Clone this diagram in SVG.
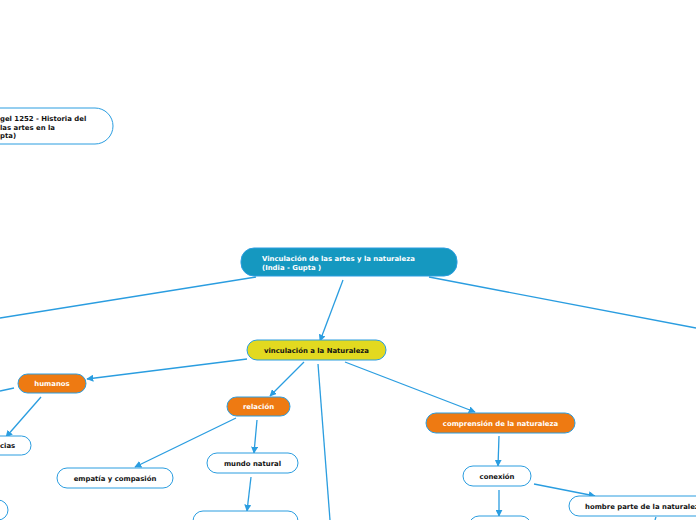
<svg xmlns="http://www.w3.org/2000/svg" width="696" height="520" viewBox="0 0 696 520">
<defs>
<marker id="ah" viewBox="0 0 10 10" refX="9" refY="5" markerWidth="7" markerHeight="7" orient="auto" markerUnits="userSpaceOnUse">
<path d="M0,0 L10,5 L0,10 z" fill="#2a9de0"/>
</marker>
<style>
.ln{stroke:#2a9de0;stroke-width:1.3;fill:none}
.ar{marker-end:url(#ah)}
.nw{fill:#ffffff;stroke:#2a9de0;stroke-width:1}
.no{fill:#ee7a12;stroke:#2a9de0;stroke-width:1}
.ny{fill:#e2d920;stroke:#2a9de0;stroke-width:1}
.nm{fill:#1598c0;stroke:#2a9de0;stroke-width:1}
text{font-family:"DejaVu Sans",Verdana,sans-serif;font-weight:bold;font-size:6.9px}
.tb{fill:#111111}
.tw{fill:#ffffff}
.c{text-anchor:middle}
</style>
</defs>
<rect width="696" height="520" fill="#ffffff"/>
<g id="connectors">
<line class="ln" x1="256" y1="277" x2="0" y2="318"/>
<line class="ln" x1="429" y1="277" x2="696" y2="328"/>
<line class="ln ar" x1="343" y1="280" x2="320" y2="341"/>
<line class="ln ar" x1="247" y1="359" x2="87" y2="379"/>
<line class="ln" x1="14" y1="388" x2="0" y2="391"/>
<line class="ln ar" x1="41" y1="397" x2="6" y2="437"/>
<line class="ln ar" x1="304" y1="362" x2="270" y2="396"/>
<line class="ln ar" x1="236" y1="418" x2="135" y2="467"/>
<line class="ln ar" x1="257" y1="420" x2="254" y2="453"/>
<line class="ln ar" x1="251" y1="477" x2="247" y2="511"/>
<line class="ln" x1="318" y1="364" x2="330" y2="520"/>
<line class="ln ar" x1="345" y1="362" x2="475" y2="412"/>
<line class="ln ar" x1="499" y1="436" x2="498" y2="466"/>
<line class="ln ar" x1="534" y1="484" x2="595" y2="496"/>
<line class="ln ar" x1="499" y1="490" x2="499" y2="516"/>
<line class="ln" x1="656" y1="517" x2="655" y2="520"/>
</g>
<g id="n-hegel">
<rect class="nw" x="-60" y="108" width="173" height="36" rx="18"/>
<text class="tb" x="0" y="121">gel 1252 - Historia del</text>
<text class="tb" x="0" y="129.5">las artes en la</text>
<text class="tb" x="0" y="138">pta)</text>
</g>
<g id="n-main">
<rect class="nm" x="241" y="248" width="216" height="28" rx="13"/>
<text class="tw" x="262" y="261">Vinculación de las artes y la naturaleza</text>
<text class="tw" x="262" y="269.5">(India - Gupta )</text>
</g>
<g id="n-vinc">
<rect class="ny" x="247" y="340" width="139" height="20" rx="10"/>
<text class="tb c" x="316.5" y="352.5">vinculación a la Naturaleza</text>
</g>
<g id="n-humanos">
<rect class="no" x="18" y="374" width="68" height="19" rx="9.5"/>
<text class="tw c" x="52" y="386">humanos</text>
</g>
<g id="n-cias">
<rect class="nw" x="-40" y="436" width="71" height="19" rx="9.5"/>
<text class="tb" x="0" y="448">cias</text>
</g>
<g id="n-bl">
<rect class="nw" x="-60" y="500" width="68" height="20" rx="10"/>
</g>
<g id="n-relacion">
<rect class="no" x="227" y="397" width="63" height="19" rx="9.5"/>
<text class="tw c" x="258.5" y="409">relación</text>
</g>
<g id="n-empatia">
<rect class="nw" x="57" y="468" width="116" height="20" rx="10"/>
<text class="tb c" x="115" y="480.5">empatía y compasión</text>
</g>
<g id="n-mundo">
<rect class="nw" x="207" y="453" width="91" height="20" rx="10"/>
<text class="tb c" x="252.5" y="465.5">mundo natural</text>
</g>
<g id="n-bottom1">
<rect class="nw" x="193" y="511" width="105" height="20" rx="10"/>
</g>
<g id="n-comprension">
<rect class="no" x="426" y="413" width="149" height="20" rx="10"/>
<text class="tw c" x="500.5" y="425.5">comprensión de la naturaleza</text>
</g>
<g id="n-conexion">
<rect class="nw" x="463" y="466" width="68" height="20" rx="10"/>
<text class="tb c" x="497" y="478.5">conexión</text>
</g>
<g id="n-hombre">
<rect class="nw" x="569" y="496" width="160" height="20" rx="10"/>
<text class="tb" x="585" y="508.5">hombre parte de la naturaleza</text>
</g>
<g id="n-bottom2">
<rect class="nw" x="469" y="516" width="62" height="20" rx="10"/>
</g>
</svg>
